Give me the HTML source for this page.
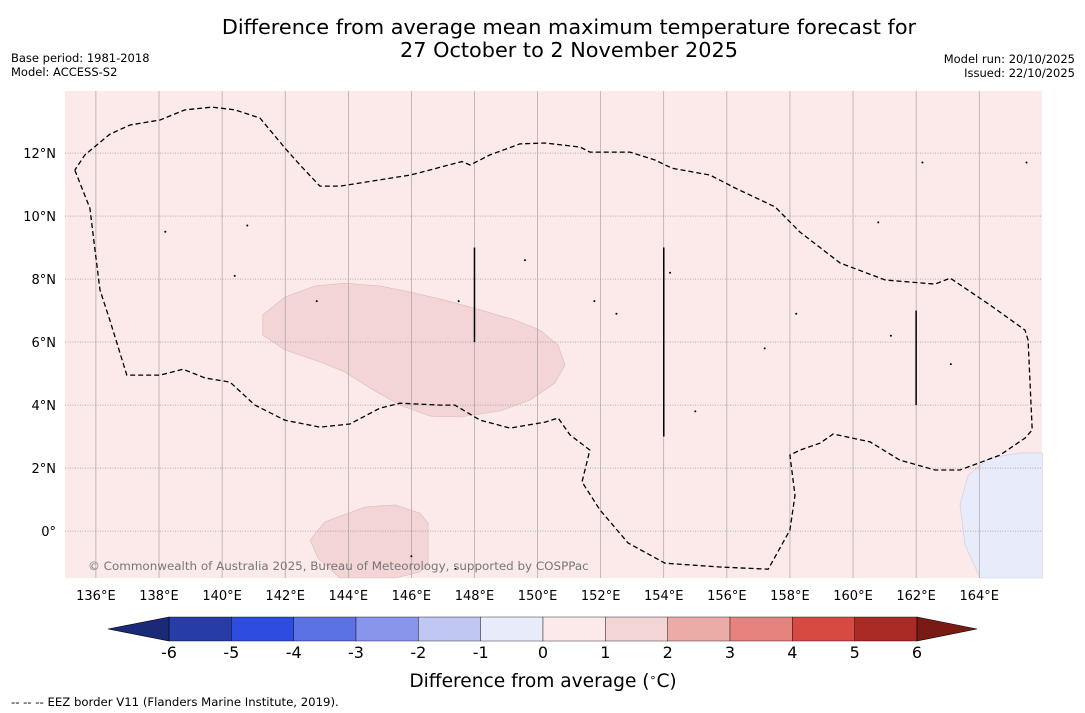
<!DOCTYPE html>
<html><head><meta charset="utf-8"><style>
html,body{margin:0;padding:0;background:#fff;width:1085px;height:713px;overflow:hidden;font-family:"Liberation Sans","DejaVu Sans",sans-serif;}
</style></head><body>
<svg id="chart" width="1085" height="713" xmlns="http://www.w3.org/2000/svg" font-family="DejaVu Sans, Liberation Sans, sans-serif">
<text x="569" y="34" text-anchor="middle" font-size="20.8">Difference from average mean maximum temperature forecast for</text>
<text x="569" y="57" text-anchor="middle" font-size="20.8">27 October to 2 November 2025</text>
<text x="11" y="62" font-size="11.5">Base period: 1981-2018</text>
<text x="11" y="76" font-size="11.5">Model: ACCESS-S2</text>
<text x="1075" y="63" text-anchor="end" font-size="11.5">Model run: 20/10/2025</text>
<text x="1075" y="77" text-anchor="end" font-size="11.5">Issued: 22/10/2025</text>
<g id="map"></g>
<g id="cbar"></g>
<text x="543" y="687" text-anchor="middle" font-size="18.6">Difference from average (<tspan font-size="11" dy="-6">∘</tspan><tspan dy="6">C)</tspan></text>
<text x="11" y="706" font-size="11.7">--  --  -- EEZ border V11 (Flanders Marine Institute, 2019).</text>
</svg>
<script>
const lonTicks=[136,138,140,142,144,146,148,150,152,154,156,158,160,162,164];
const latTicks=[0,2,4,6,8,10,12];
const cbarLevels=[-6,-5,-4,-3,-2,-1,0,1,2,3,4,5,6];
const cbarColors=["#283ca8","#2e4de0","#5a72e3","#8796ea","#c0c7f3","#e8ebfa","#fbeae9","#f3d5d5","#ebaca8","#e5837e","#d64a42","#aa2b25"];
const eezLon=[135.33,135.81,135.97,136.13,136.44,136.98,138.03,138.76,139.46,140.25,141.04,141.99,143.10,144.05,145.00,145.64,146.91,147.38,148.18,149.13,150.24,150.65,151.03,151.66,151.41,151.98,152.87,154.04,155.78,157.31,158.00,158.16,158.00,158.32,158.95,159.37,160.54,161.49,162.60,163.39,164.66,165.45,165.68,165.55,165.45,164.35,163.08,162.60,161.02,159.59,158.32,157.53,156.26,155.47,154.26,153.72,152.93,151.66,151.35,150.24,149.44,148.49,147.86,147.60,145.96,143.74,143.10,142.47,141.99,141.20,140.41,139.68,138.82,138.03,137.08,136.44,135.65,135.33];
const eezLat=[11.46,10.25,8.92,7.65,6.70,4.95,4.95,5.14,4.86,4.73,4.00,3.52,3.30,3.40,3.90,4.06,4.00,4.00,3.52,3.27,3.46,3.59,3.05,2.57,1.56,0.67,-0.38,-1.02,-1.14,-1.21,0.03,1.14,2.41,2.57,2.79,3.08,2.83,2.25,1.94,1.94,2.41,2.95,3.21,6.06,6.38,7.17,8.03,7.84,7.97,8.51,9.49,10.29,10.89,11.30,11.52,11.78,12.03,12.03,12.19,12.32,12.29,11.94,11.62,11.73,11.30,10.95,10.95,11.62,12.16,13.11,13.37,13.46,13.37,13.05,12.89,12.60,11.94,11.46];
const warmLon=[141.29,141.99,142.94,143.89,145.00,145.96,147.07,148.18,149.28,150.08,150.65,150.87,150.55,149.76,148.81,147.54,146.59,145.64,144.69,143.89,143.10,141.99,141.29];
const warmLat=[6.86,7.43,7.78,7.87,7.78,7.59,7.33,7.02,6.70,6.38,5.90,5.27,4.70,4.16,3.81,3.62,3.65,4.00,4.54,5.05,5.37,5.75,6.22];
const warm2Lon=[142.79,143.26,144.53,145.48,146.27,146.53,146.53,146.27,145.48,143.74,143.04];
const warm2Lat=[-0.29,0.29,0.76,0.83,0.57,0.25,-1.08,-1.30,-1.49,-1.49,-0.86];
const coolLon=[164.03,163.55,163.39,163.65,164.35,165.30,166.0,166.0];
const coolLat=[-1.49,-0.44,0.83,1.78,2.32,2.48,2.48,-1.49];
const segLon=[148,154,162];
const segLat0=[6,3,4];
const segLat1=[9,9,7];
const islandLon=[138.2,140.4,143.0,146.0,147.5,149.6,151.8,152.5,154.2,155.0,157.2,158.2,160.8,161.2,162.2,163.1,165.5,140.8,145.0,147.4];
const islandLat=[9.5,8.1,7.3,-0.8,7.3,8.6,7.3,6.9,8.2,3.8,5.8,6.9,9.8,6.2,11.7,5.3,11.7,9.7,-1.0,-1.2];

const NS="http://www.w3.org/2000/svg";
const X0=65,X1=1042,Y0=91,Y1=578;
const LON0=135.02,LON1=165.99,LAT0=-1.49,LAT1=13.97;
const xs=l=>X0+(l-LON0)/(LON1-LON0)*(X1-X0);
const ys=l=>Y1-(l-LAT0)/(LAT1-LAT0)*(Y1-Y0);
function mk(tag,attrs,parent){const e=document.createElementNS(NS,tag);for(const k in attrs)e.setAttribute(k,attrs[k]);parent.appendChild(e);return e;}
const map=document.getElementById('map');
let r=mk('rect',{x:X0,y:Y0,width:X1-X0,height:Y1-Y0,fill:'#fbeae9'},map);


function poly(lons,lats,fill,stroke,name){const p=lons.map((l,i)=>xs(l).toFixed(1)+','+ys(lats[i]).toFixed(1)).join(' ');const e=mk('polygon',{points:p,fill:fill,stroke:stroke,'stroke-width':0.6},map);
return e;}
poly(warmLon,warmLat,'#f3d5d5','#d9b9b9','warm-anomaly-region');
poly(warm2Lon,warm2Lat,'#f3d5d5','#d9b9b9','warm-anomaly-region-south');
poly(coolLon,coolLat,'#e8ebfa','#c9cde0','cool-anomaly-region');
lonTicks.forEach(l=>{const x=xs(l);
const g=mk('line',{x1:x,x2:x,y1:Y0,y2:Y1,stroke:'#999','stroke-width':0.6},map);


const t=mk('text',{x:x,y:600,'text-anchor':'middle','font-size':13},map);t.textContent=l+'°E';

});
latTicks.forEach(l=>{const y=ys(l);
const g=mk('line',{x1:X0,x2:X1,y1:y,y2:y,stroke:'#888','stroke-width':0.7,'stroke-dasharray':'1,1.5'},map);


const t=mk('text',{x:56,y:y+5,'text-anchor':'end','font-size':13},map);t.textContent=(l===0?'0°':l+'°N');

});
const ez=mk('polyline',{points:eezLon.map((l,i)=>xs(l).toFixed(1)+','+ys(eezLat[i]).toFixed(1)).join(' '),fill:'none',stroke:'#000','stroke-width':1.3,'stroke-dasharray':'5,3'},map);


segLon.forEach((l,i)=>{const s=mk('line',{x1:xs(l),x2:xs(l),y1:ys(segLat0[i]),y2:ys(segLat1[i]),stroke:'#000','stroke-width':1.5},map);

});
islandLon.forEach((l,i)=>{const c=mk('circle',{cx:xs(l),cy:ys(islandLat[i]),r:1,fill:'#000'},map);

});
const cp=mk('text',{x:88,y:570,'font-size':11.9,fill:'#777'},map);cp.textContent='© Commonwealth of Australia 2025, Bureau of Meteorology, supported by COSPPac';


const cb=document.getElementById('cbar');
const C0=169,C1=917,CY=617,CH=24;
const cx=v=>C0+(v-cbarLevels[0])/(cbarLevels[cbarLevels.length-1]-cbarLevels[0])*(C1-C0);
cbarColors.forEach((c,i)=>{const b=mk('rect',{x:cx(cbarLevels[i]),y:CY,width:cx(cbarLevels[i+1])-cx(cbarLevels[i]),height:CH,fill:c,stroke:'#000','stroke-width':0.4},cb);

});
let tl=mk('polygon',{points:`${C0},${CY} 108,${CY+CH/2} ${C0},${CY+CH}`,fill:'#1a2a78',stroke:'#000','stroke-width':0.6},cb);


let tr=mk('polygon',{points:`${C1},${CY} 977,${CY+CH/2} ${C1},${CY+CH}`,fill:'#7a1a15',stroke:'#000','stroke-width':0.6},cb);


cbarLevels.forEach(v=>{const t=mk('text',{x:cx(v),y:658,'text-anchor':'middle','font-size':16},cb);t.textContent=v;

});
</script>
</body></html>
